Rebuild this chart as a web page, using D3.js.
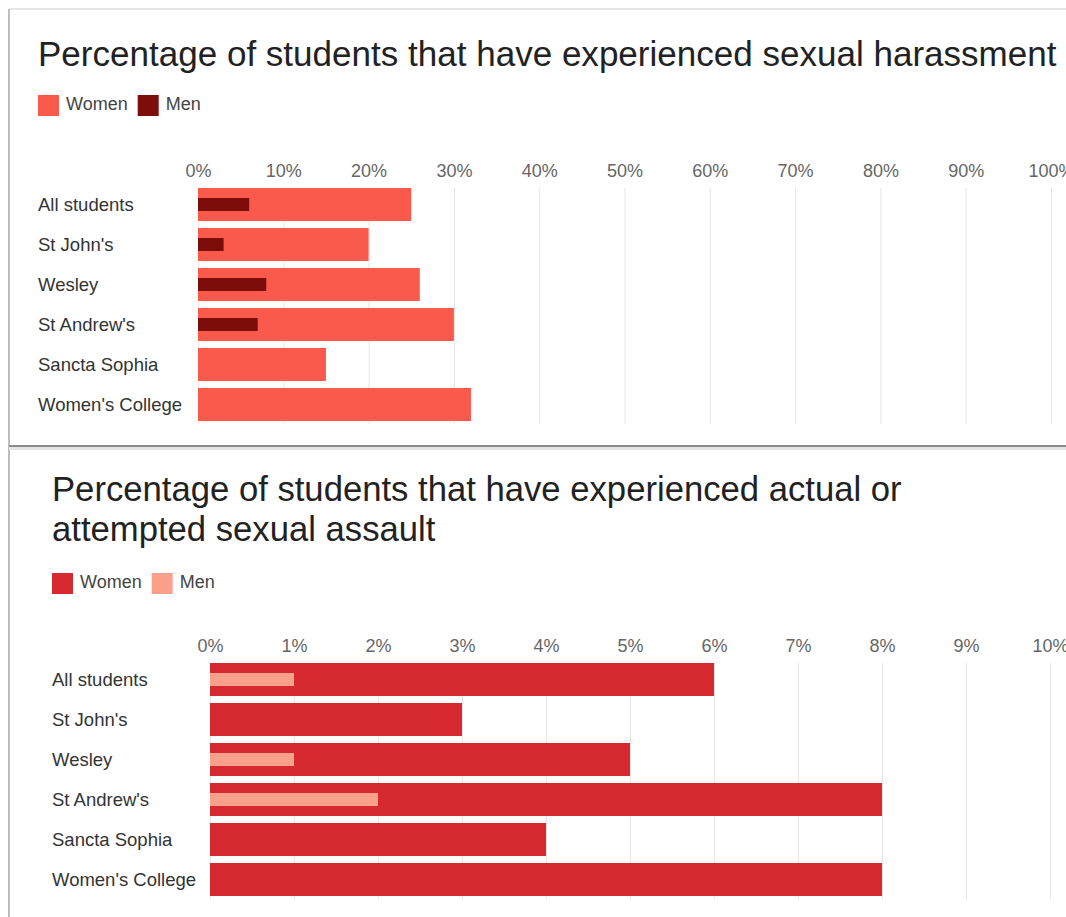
<!DOCTYPE html>
<html>
<head>
<meta charset="utf-8">
<script src="https://cdn.jsdelivr.net/npm/d3@7"></script>
<style>
  body { margin: 0; background: #fff; }
  svg { display: block; font-family: "Liberation Sans", Arial, Helvetica, sans-serif; }
  .tick line { stroke: #e6e6e6; }
  .tick text { fill: #666; font-size: 18px; }
  .cat { fill: #333; font-size: 18.5px; }
  .leg { fill: #444; font-size: 18px; }
  .title { fill: #222; }
</style>
</head>
<body>
<div id="chart"></div>
<script>
// ---- data ----
var colleges = ["All students", "St John's", "Wesley", "St Andrew's", "Sancta Sophia", "Women's College"];

var harass_women = [25, 20, 26, 30, 15, 32];
var harass_men   = [6, 3, 8, 7, 0, 0];
var harass_ticks = [0, 10, 20, 30, 40, 50, 60, 70, 80, 90, 100];

var assault_women = [6, 3, 5, 8, 4, 8];
var assault_men   = [1, 0, 1, 2, 0, 0];
var assault_ticks = [0, 1, 2, 3, 4, 5, 6, 7, 8, 9, 10];

var W = 1066, H = 917;

var svg = d3.select("#chart").append("svg")
    .attr("width", W)
    .attr("height", H);

// frame of the screenshot
svg.append("line").attr("x1", 9).attr("x2", W).attr("y1", 9).attr("y2", 9)
    .attr("stroke", "#dcdcdc").attr("stroke-width", 1.5);
svg.append("line").attr("x1", 9).attr("x2", 9).attr("y1", 9).attr("y2", H)
    .attr("stroke", "#bdbdbd").attr("stroke-width", 2);
svg.append("rect").attr("x", 9).attr("y", 447).attr("width", W).attr("height", 3)
    .attr("fill", "#e4e4e4");
svg.append("line").attr("x1", 9).attr("x2", W).attr("y1", 446).attr("y2", 446)
    .attr("stroke", "#8c8c8c").attr("stroke-width", 2);

// fit a text to a given pixel width by adjusting its font size
function fit_text(sel, width)
{
    var fs = 30;
    sel.style("font-size", fs + "px");
    var len = sel.node().getComputedTextLength();
    sel.style("font-size", (fs * width / len) + "px");
}

var draw_chart = function(opt)
{
    var g = svg.append("g");

    // title
    var title = g.append("text").classed("title", true)
	.attr("x", opt.left);
    opt.title.forEach(function(line, i){
	title.append("tspan")
	    .attr("x", opt.left)
	    .attr("y", opt.title_y + i * 40)
	    .text(line);
    });
    fit_text(title.select("tspan"), opt.title_w);
    var fs = title.select("tspan").style("font-size");
    title.selectAll("tspan").style("font-size", fs);

    // legend
    var lx = opt.left;
    opt.legend.forEach(function(l){
	g.append("rect")
	    .attr("x", lx).attr("y", opt.legend_y - 15)
	    .attr("width", 21).attr("height", 21)
	    .attr("fill", l.color);
	var t = g.append("text").classed("leg", true)
	    .attr("x", lx + 28).attr("y", opt.legend_y)
	    .text(l.name);
	lx += 28 + t.node().getComputedTextLength() + 10;
    });

    var x = d3.scaleLinear()
	.domain([0, opt.ticks[opt.ticks.length - 1]])
	.range([opt.x0, opt.x1]);

    var y = d3.scaleBand()
	.domain(colleges)
	.range([opt.top - 3.5, opt.top - 3.5 + 40 * colleges.length])
	.paddingInner(0.175)
	.paddingOuter(0.0875);

    var grid_h = y.range()[1] - opt.top;

    var axis = g.append("g")
	.attr("transform", "translate(0," + opt.top + ")")
	.call(d3.axisTop(x)
	      .tickValues(opt.ticks)
	      .tickSizeInner(-grid_h)
	      .tickSizeOuter(0)
	      .tickPadding(11)
	      .tickFormat(function(d){ return d + "%"; }));
    axis.select(".domain").remove();
    axis.selectAll("text").style("font-family", null).attr("font-family", null);
    axis.attr("font-family", null).attr("font-size", null);

    // category labels
    g.selectAll(".cat")
	.data(colleges)
	.enter()
	.append("text")
	.classed("cat", true)
	.attr("x", opt.left)
	.attr("y", function(d){ return y(d) + y.bandwidth() / 2 + 6; })
	.text(function(d){ return d; });

    // women bars
    g.selectAll(".women")
	.data(opt.women)
	.enter()
	.append("rect")
	.classed("women", true)
	.attr("x", x(0))
	.attr("y", function(d, i){ return y(colleges[i]); })
	.attr("width", function(d){ return x(d) - x(0); })
	.attr("height", y.bandwidth())
	.attr("fill", opt.legend[0].color);

    // men bars, thinner and inside
    var mh = 13;
    g.selectAll(".men")
	.data(opt.men)
	.enter()
	.append("rect")
	.classed("men", true)
	.attr("x", x(0))
	.attr("y", function(d, i){ return y(colleges[i]) + (y.bandwidth() - mh) / 2; })
	.attr("width", function(d){ return x(d) - x(0); })
	.attr("height", mh)
	.attr("fill", opt.legend[1].color);
};

draw_chart({
    title: ["Percentage of students that have experienced sexual harassment"],
    title_y: 66,
    title_w: 1019,
    left: 38,
    legend_y: 110,
    legend: [{name: "Women", color: "#fa5a4b"}, {name: "Men", color: "#7d0d0b"}],
    ticks: harass_ticks,
    x0: 198, x1: 1051,
    top: 188,
    women: harass_women,
    men: harass_men
});

draw_chart({
    title: ["Percentage of students that have experienced actual or",
	    "attempted sexual assault"],
    title_y: 501,
    title_w: 850,
    left: 52,
    legend_y: 588,
    legend: [{name: "Women", color: "#d6282f"}, {name: "Men", color: "#fba08b"}],
    ticks: assault_ticks,
    x0: 210, x1: 1050,
    top: 663,
    women: assault_women,
    men: assault_men
});
</script>
</body>
</html>
